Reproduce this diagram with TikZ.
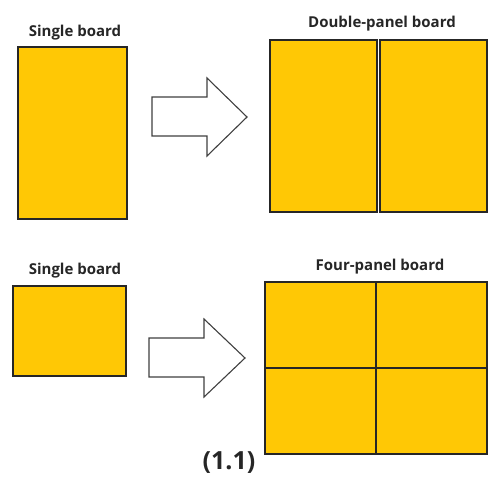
\documentclass[tikz,border=0pt]{standalone}
\usepackage{fontspec}
\setmainfont{Open Sans}
\begin{document}
\begin{tikzpicture}[x=1pt,y=-1pt,
  board/.style={draw=black!85,line width=1.3pt,fill=boardyellow,inner sep=0pt,outer sep=0pt,anchor=north west},
  lbl/.style={font=\bfseries\fontsize{15}{17}\selectfont,text=black!85,inner sep=0pt},
  bigarrow/.style={draw=black!75,line width=1.1pt,fill=white,line join=miter}]
\definecolor{boardyellow}{HTML}{FFC805}
\useasboundingbox[fill=white] (0,0) rectangle (500,477);
% top row
\node[board,minimum width=109pt,minimum height=172pt] (s1) at (18,47) {};
\node[lbl] (ls1) at (75,33) {Single board};
\draw[bigarrow] (152,97) -- (207,97) -- (207,78) -- (247,117) -- (207,156) -- (207,136) -- (152,136) -- cycle;
\node[board,minimum width=107pt,minimum height=172pt] (d1) at (270,40) {};
\node[board,minimum width=107pt,minimum height=172pt] (d2) at (380,40) {};
\node[lbl] (ld) at (382,24) {Double-panel board};
% bottom row
\node[board,minimum width=113pt,minimum height=90pt] (s2) at (13,286) {};
\node[lbl] (ls2) at (75,271) {Single board};
\draw[bigarrow] (149,338) -- (204,338) -- (204,319) -- (245,358) -- (204,397) -- (204,377) -- (149,377) -- cycle;
\node[board,minimum width=111pt,minimum height=86pt] (f1) at (265,282) {};
\node[board,minimum width=111pt,minimum height=86pt] (f2) at (376,282) {};
\node[board,minimum width=111pt,minimum height=86pt] (f3) at (265,368) {};
\node[board,minimum width=111pt,minimum height=86pt] (f4) at (376,368) {};
\node[lbl] (lf) at (380,267) {Four-panel board};
\node[lbl,font=\bfseries\fontsize{25}{28}\selectfont] (cap) at (229,463) {(1.1)};
\end{tikzpicture}
\end{document}
